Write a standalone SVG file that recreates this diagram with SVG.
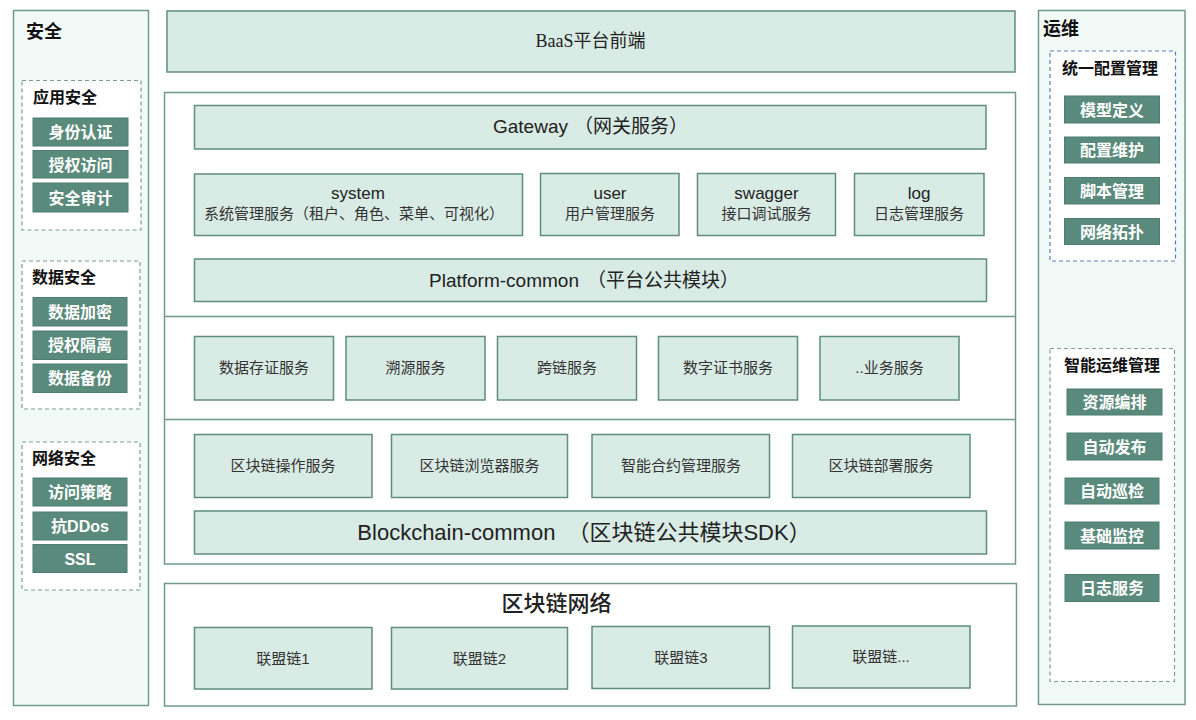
<svg xmlns="http://www.w3.org/2000/svg" width="1196" height="720" viewBox="0 0 1196 720">
<style>
.panel{fill:#f2faf8;stroke:#6f9b8e;stroke-width:1.5}
.box{fill:#d9ebe5;stroke:#5f8d80;stroke-width:1.5}
.frame{fill:#ffffff;stroke:#6f9b8e;stroke-width:1.5}
.dash{fill:#ffffff;stroke:#7f9e96;stroke-width:1.2;stroke-dasharray:4 3}
.dashb{fill:#ffffff;stroke:#5b7fb8;stroke-width:1.2;stroke-dasharray:4 3}
.btn{fill:#5a8a7c;stroke:#4d7d70;stroke-width:1}
text{font-family:"Liberation Sans","Noto Sans CJK SC",sans-serif;fill:#222}
.t{text-anchor:middle}
.bt{text-anchor:middle;fill:#ffffff;font-size:16px;font-weight:bold}
.h{font-weight:bold;font-size:16px;fill:#111}
.s{font-size:15px;fill:#333}
</style>

<g id="security">
<rect class="panel" x="13.5" y="10.5" width="135" height="695"/>
<text x="26" y="38" class="h" style="font-size:18px">安全</text>
</g>
<g id="app-security">
<rect class="dash" x="22" y="80.5" width="119" height="149.5"/>
<text x="33" y="103" class="h">应用安全</text>
<rect class="btn" x="33" y="118" width="95" height="28"/><text class="bt" x="80.5" y="138">身份认证</text>
<rect class="btn" x="33" y="150.5" width="95" height="27.5"/><text class="bt" x="80.5" y="170.5">授权访问</text>
<rect class="btn" x="33" y="183" width="95" height="29"/><text class="bt" x="80.5" y="203.5">安全审计</text>
</g>
<g id="data-security">
<rect class="dash" x="22" y="261" width="118" height="148"/>
<text x="32" y="283" class="h">数据安全</text>
<rect class="btn" x="33" y="297.5" width="94" height="28.5"/><text class="bt" x="80" y="317.5">数据加密</text>
<rect class="btn" x="33" y="331" width="94" height="28.5"/><text class="bt" x="80" y="351">授权隔离</text>
<rect class="btn" x="33" y="364" width="94" height="28.5"/><text class="bt" x="80" y="384">数据备份</text>
</g>
<g id="net-security">
<rect class="dash" x="22" y="442" width="118" height="148"/>
<text x="32" y="464" class="h">网络安全</text>
<rect class="btn" x="33" y="478" width="94" height="28"/><text class="bt" x="80" y="498">访问策略</text>
<rect class="btn" x="33" y="512" width="94" height="28"/><text class="bt" x="80" y="532">抗DDos</text>
<rect class="btn" x="33" y="544.5" width="94" height="28"/><text class="bt" x="80" y="564.5">SSL</text>
</g>

<g id="ops">
<rect class="panel" x="1038.5" y="10.5" width="146.5" height="694"/>
<text x="1043" y="35" class="h" style="font-size:18px">运维</text>
</g>
<g id="config-mgmt">
<rect class="dashb" x="1050" y="51" width="125.5" height="210"/>
<text x="1110" y="74" class="h t">统一配置管理</text>
<rect class="btn" x="1064.5" y="96" width="95" height="27"/><text class="bt" x="1112" y="115.5">模型定义</text>
<rect class="btn" x="1064.5" y="137" width="95" height="26"/><text class="bt" x="1112" y="156">配置维护</text>
<rect class="btn" x="1064.5" y="177.5" width="95" height="26.5"/><text class="bt" x="1112" y="196.5">脚本管理</text>
<rect class="btn" x="1064.5" y="218.5" width="95" height="26"/><text class="bt" x="1112" y="237.5">网络拓扑</text>
</g>
<g id="smart-ops">
<rect class="dash" x="1050" y="348.5" width="124.5" height="333"/>
<text x="1112" y="371" class="h t">智能运维管理</text>
<rect class="btn" x="1067" y="389" width="95" height="26"/><text class="bt" x="1114.5" y="408">资源编排</text>
<rect class="btn" x="1067" y="433" width="95" height="27"/><text class="bt" x="1114.5" y="452.5">自动发布</text>
<rect class="btn" x="1065" y="478" width="94" height="26"/><text class="bt" x="1112" y="497">自动巡检</text>
<rect class="btn" x="1065" y="522" width="94" height="27"/><text class="bt" x="1112" y="541.5">基础监控</text>
<rect class="btn" x="1065" y="574.5" width="94" height="27"/><text class="bt" x="1112" y="594">日志服务</text>
</g>

<g id="frontend">
<rect class="box" x="167" y="11" width="848" height="61"/>
<text class="t" x="590.5" y="47" style="font-size:18px;font-family:'Liberation Serif','Noto Sans CJK SC',serif">BaaS平台前端</text>
</g>

<g id="main-frame">
<rect class="frame" x="164.5" y="92.5" width="851" height="471.5"/>
<line x1="164.5" y1="316.5" x2="1015.5" y2="316.5" stroke="#6f9b8e" stroke-width="1.5"/>
<line x1="164.5" y1="419.5" x2="1015.5" y2="419.5" stroke="#6f9b8e" stroke-width="1.5"/>
</g>
<g id="gateway">
<rect class="box" x="194.5" y="105.5" width="791.5" height="43.5"/>
<text class="t" x="590.5" y="133" style="font-size:19px">Gateway<tspan dx="6">（网关服务）</tspan></text>
</g>
<g id="system">
<rect class="box" x="194.5" y="174" width="328" height="61.5"/>
<text class="t" x="358" y="199" style="font-size:17px">system</text>
<text class="t s" x="354" y="219">系统管理服务（租户、角色、菜单、可视化）</text>
</g>
<g id="user">
<rect class="box" x="540.5" y="173.5" width="138.5" height="62"/>
<text class="t" x="610" y="199" style="font-size:17px">user</text>
<text class="t s" x="610" y="219">用户管理服务</text>
</g>
<g id="swagger">
<rect class="box" x="697.5" y="173.5" width="138" height="62"/>
<text class="t" x="766.5" y="199" style="font-size:17px">swagger</text>
<text class="t s" x="766.5" y="219">接口调试服务</text>
</g>
<g id="log">
<rect class="box" x="854.5" y="173.5" width="129.5" height="62"/>
<text class="t" x="919" y="199" style="font-size:17px">log</text>
<text class="t s" x="919" y="219">日志管理服务</text>
</g>
<g id="platform-common">
<rect class="box" x="194.5" y="259" width="792" height="42.5"/>
<text class="t" x="584" y="287" style="font-size:19px">Platform-common<tspan dx="8">（平台公共模块）</tspan></text>
</g>

<g id="evidence"><rect class="box" x="194.5" y="336.5" width="139" height="63.5"/><text class="t s" x="264" y="373">数据存证服务</text></g>
<g id="trace"><rect class="box" x="346" y="336.5" width="139" height="63.5"/><text class="t s" x="415.5" y="373">溯源服务</text></g>
<g id="crosschain"><rect class="box" x="497.5" y="336.5" width="139" height="63.5"/><text class="t s" x="567" y="373">跨链服务</text></g>
<g id="cert"><rect class="box" x="658.5" y="336.5" width="139" height="63.5"/><text class="t s" x="728" y="373">数字证书服务</text></g>
<g id="biz"><rect class="box" x="820" y="336.5" width="139" height="63.5"/><text class="t s" x="889.5" y="373">..业务服务</text></g>

<g id="chain-op"><rect class="box" x="194.5" y="434.5" width="177.5" height="63"/><text class="t s" x="283" y="471">区块链操作服务</text></g>
<g id="chain-browser"><rect class="box" x="391.5" y="434.5" width="176" height="63"/><text class="t s" x="479.5" y="471">区块链浏览器服务</text></g>
<g id="contract"><rect class="box" x="592" y="434.5" width="177.5" height="63"/><text class="t s" x="681" y="471">智能合约管理服务</text></g>
<g id="deploy"><rect class="box" x="792.5" y="434.5" width="177.5" height="63"/><text class="t s" x="881" y="471">区块链部署服务</text></g>
<g id="blockchain-common">
<rect class="box" x="194.5" y="511" width="792" height="43"/>
<text class="t" x="584" y="540" style="font-size:22px">Blockchain-common<tspan dx="12">（区块链公共模块SDK）</tspan></text>
</g>

<g id="network">
<rect class="frame" x="164.5" y="583.5" width="852" height="122.5"/>
<text class="t" x="556.5" y="611" style="font-size:22px;font-weight:500">区块链网络</text>
</g>
<g id="chain1"><rect class="box" x="194.5" y="627.5" width="177.5" height="61.5"/><text class="t s" x="283" y="664">联盟链1</text></g>
<g id="chain2"><rect class="box" x="391.5" y="627.5" width="176" height="61.5"/><text class="t s" x="479.5" y="664">联盟链2</text></g>
<g id="chain3"><rect class="box" x="592" y="626.5" width="177.5" height="62"/><text class="t s" x="681" y="663">联盟链3</text></g>
<g id="chain4"><rect class="box" x="792.5" y="626" width="177.5" height="62"/><text class="t s" x="881" y="662">联盟链...</text></g>

<g id="connectors"></g>
</svg>
